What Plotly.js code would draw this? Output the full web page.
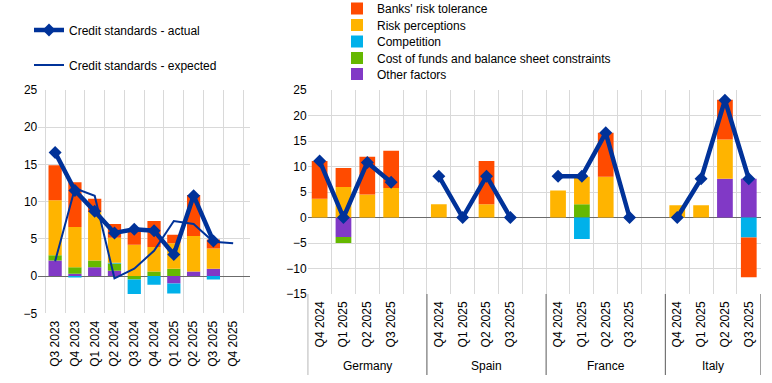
<!DOCTYPE html>
<html><head><meta charset="utf-8">
<script src="https://cdn.plot.ly/plotly-3.0.1.min.js"></script>
<style>html,body{margin:0;padding:0;background:#fff}#chart{width:772px;height:383px}</style>
</head><body><div id="chart"></div>
<script>
// ---- Euro area panel (left) ----
const quarters = ['Q3 2023','Q4 2023','Q1 2024','Q2 2024','Q3 2024','Q4 2024','Q1 2025','Q2 2025','Q3 2025','Q4 2025'];
const riskTolerance   = [4.7, 6.0, 1.8, 1.85, 2.0, 3.5, 1.15, 5.5, 1.2, 0];
const riskPerceptions = [7.4, 5.4, 6.5, 3.35, 4.2, 3.3, 3.4, 4.8, 2.7, 0];
const competition     = [0, -0.2, 0, 0.1, -1.95, -1.15, -1.35, 0, -0.45, 0];
const costOfFunds     = [0.7, 0.9, 0.9, 1.0, -0.45, 0.6, 1.0, 0, 0, 0];
const otherFactors    = [2.1, 0.3, 1.2, 0.7, 0, 0, -1.0, 0.6, 1.0, 0];
const actual   = [16.6, 11.5, 8.7, 5.8, 6.3, 6.1, 2.9, 10.8, 4.7, null];
const expected = [2.0, 11.8, 10.8, -0.3, 1.0, 3.4, 7.4, 7.0, 4.6, 4.4];

// ---- Country panel (right) ----
const countries = ['Germany','Spain','France','Italy'];
const countryQuarters = ['Q4 2024','Q1 2025','Q2 2025','Q3 2025'];
const cRiskTolerance   = [7.4,3.7,7.4,7.3, 0,0,8.5,0, 0,0,8.6,0, 0,0,7.8,-7.8];
const cRiskPerceptions = [3.7,6.0,4.5,5.8, 2.6,0,2.6,0, 5.3,5.4,8.0,0, 2.4,2.4,7.7,0];
const cCompetition     = [0,0,0,0, 0,0,0,0, 0,-4.2,0,0, 0,0,0,-3.9];
const cCostOfFunds     = [0,-1.2,0,0, 0,0,0,0, 0,2.6,0,0, 0,0,0,0];
const cOtherFactors    = [0,-3.8,0,0, 0,0,0,0, 0,0,0,0, 0,0,7.6,7.6];
const cActual          = [11.1,0,10.8,6.9, 8.1,0,8.1,0, 8.1,8.1,16.6,0, 0,7.6,23.0,7.6];

const factorNames = ['Other factors','Cost of funds and balance sheet constraints','Competition','Risk perceptions',"Banks' risk tolerance"];
const factorColors = ['#8139C6','#65B800','#00B1EA','#FFB400','#FF4B00'];
const euroFactors = [otherFactors, costOfFunds, competition, riskPerceptions, riskTolerance];
const countryFactors = [cOtherFactors, cCostOfFunds, cCompetition, cRiskPerceptions, cRiskTolerance];
const lineColor = '#003299';

// pixel helpers for layout
const W = 772, H = 383;
const px = v => v / W, py = v => 1 - v / H;

const n = countryQuarters.length;
const xs = [];
countries.forEach((c, g) => countryQuarters.forEach((q, i) => xs.push(g * (n + 1) + i)));
const xt = [];
countries.forEach(() => countryQuarters.forEach(q => xt.push(q)));

const traces = [];
const legendY = [74, 58, 41.5, 25, 8.5];
factorNames.forEach((name, k) => {
  traces.push({type:'bar', x:quarters, y:euroFactors[k], name:name, marker:{color:factorColors[k], line:{width:0}},
    xaxis:'x', yaxis:'y', legend:'legend' + (3 + k), hoverinfo:'y+name'});
});
factorNames.forEach((name, k) => {
  traces.push({type:'bar', x:xs, y:countryFactors[k], name:name, width:0.66, marker:{color:factorColors[k], line:{width:0}},
    xaxis:'x2', yaxis:'y2', showlegend:false, hoverinfo:'y+name'});
});
traces.push({type:'scatter', mode:'lines', x:quarters, y:expected, name:'Credit standards - expected',
  line:{color:lineColor, width:2}, xaxis:'x', yaxis:'y', legend:'legend2'});
traces.push({type:'scatter', mode:'lines+markers', x:quarters, y:actual, name:'Credit standards - actual',
  line:{color:lineColor, width:4.5}, marker:{symbol:'diamond', size:10, color:lineColor},
  xaxis:'x', yaxis:'y', legend:'legend', connectgaps:false});
countries.forEach((c, g) => {
  traces.push({type:'scatter', mode:'lines+markers', x:xs.slice(g*n, g*n+n), y:cActual.slice(g*n, g*n+n),
    name:'Credit standards - actual', showlegend:false,
    line:{color:lineColor, width:4.5}, marker:{symbol:'diamond', size:10, color:lineColor}, xaxis:'x2', yaxis:'y2'});
});

const font = {family:'Liberation Sans, Arial, sans-serif', size:12, color:'#000'};
const grid = '#D9D9D9';
const layout = {
  width:W, height:H, margin:{l:0, r:0, t:0, b:0, autoexpand:false}, paper_bgcolor:'#fff', plot_bgcolor:'#fff',
  font:font, barmode:'relative', bargap:0.33, showlegend:true,
  xaxis:{domain:[px(38.3), px(250)], type:'category', tickson:'boundaries', showgrid:true, gridcolor:grid,
    tickangle:-90, ticks:'', ticklabelstandoff:4, zeroline:false, showline:false, fixedrange:true, anchor:'y'},
  yaxis:{domain:[py(313.3), py(90)], range:[-5,25], dtick:5, gridcolor:grid, zeroline:true, zerolinecolor:'#6b6b6b',
    zerolinewidth:1, ticks:'', showline:false, fixedrange:true, anchor:'x'},
  xaxis2:{domain:[px(307.7), px(760.7)], range:[-0.5, xs[xs.length-1] + 0.5], tickmode:'array', tickvals:xs, ticktext:xt,
    tickangle:-90, ticks:'', ticklabelstandoff:4, showgrid:false, zeroline:false, showline:false, fixedrange:true, anchor:'y2',
    minor:{tickmode:'linear', tick0:-0.5, dtick:1, showgrid:true, gridcolor:grid, ticks:''}},
  yaxis2:{domain:[py(294), py(90)], range:[-15,25], dtick:5, gridcolor:grid, zeroline:true, zerolinecolor:'#6b6b6b',
    zerolinewidth:1, ticks:'', showline:false, fixedrange:true, anchor:'x2'},
  shapes:[], annotations:[]
};
// group dividers under the country axis
const bounds = [-0.5];
countries.forEach((c, g) => bounds.push(g < countries.length - 1 ? g*(n+1) + n + 0.5 : g*(n+1) + n - 0.5));
bounds.forEach(b => layout.shapes.push({type:'line', xref:'x2', yref:'paper', x0:b, x1:b, y0:py(294), y1:py(375),
  line:{color:'#595959', width:1}}));
countries.forEach((c, g) => layout.annotations.push({xref:'x2', yref:'paper', x:(bounds[g] + bounds[g+1]) / 2, y:py(366),
  text:c, showarrow:false, xanchor:'center', yanchor:'middle', font:font}));
// legends
const legBase = {bgcolor:'rgba(0,0,0,0)', borderwidth:0, font:font, xanchor:'left', yanchor:'middle', orientation:'v'};
layout.legend  = Object.assign({}, legBase, {x:px(29), y:py(30)});
layout.legend2 = Object.assign({}, legBase, {x:px(29), y:py(65)});
legendY.forEach((yv, k) => { layout['legend' + (3 + k)] = Object.assign({}, legBase, {x:px(337), y:py(yv)}); });

Plotly.newPlot('chart', traces, layout, {displayModeBar:false, staticPlot:true});
</script></body></html>
